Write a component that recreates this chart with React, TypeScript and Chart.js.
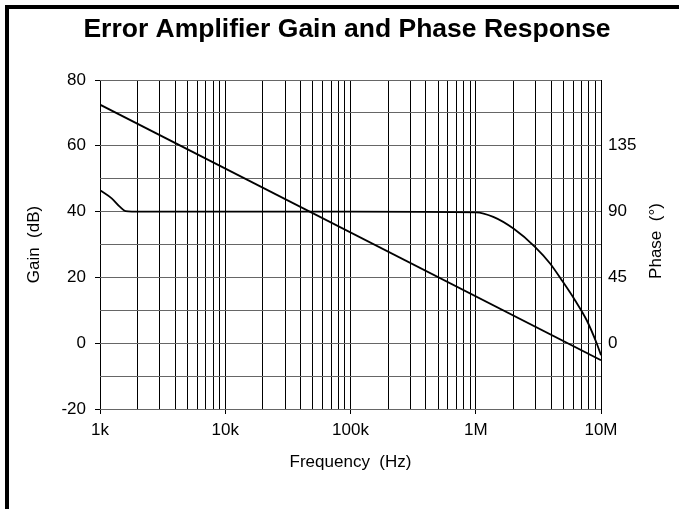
import React, { useEffect, useRef } from "react";
import { Chart, registerables } from "chart.js";

Chart.register(...registerables);

const TITLE = "Error Amplifier Gain and Phase Response";
const X_TITLE = "Frequency  (Hz)";
const Y_LEFT_TITLE = "Gain  (dB)";
const Y_RIGHT_TITLE = "Phase  (°)";

// Gain curve (dB) vs frequency (Hz)
const gainFreq = [1e3, 1e7];
const gainDb = [72.5, -5.2];

// Phase curve (degrees) vs frequency (Hz)
const phaseFreq = [1000, 1240, 1445, 1600, 1800, 1e4, 1e5, 1e6, 1.38e6, 2.0e6, 2.97e6, 3.92e6, 4.86e6, 6.2e6, 7.69e6, 9.25e6, 1e7];
const phaseDeg = [104.6, 99, 93.2, 90.3, 90, 90, 90, 89.5, 86.4, 78.4, 65.9, 54.5, 43.1, 29.4, 15.7, -0.2, -8.2];

// X axis ticks
const decades = [1e3, 1e4, 1e5, 1e6, 1e7];
const decadeLabels = ["1k", "10k", "100k", "1M", "10M"];
const minorMultipliers = [1, 2, 3, 4, 5, 6, 7, 8, 9];

// Left axis (gain)
const gainMin = -20;
const gainMax = 80;
const gainStep = 10;
const gainLabelEvery = 20;

// Right axis (phase)
const phaseMin = -45;
const phaseMax = 180;
const phaseStep = 45;
const phaseLabels = [0, 45, 90, 135];

const FONT = '"Liberation Sans", Arial, Helvetica, sans-serif';

const xTickValues: number[] = [];
decades.forEach((d, i) => {
  if (i < decades.length - 1) {
    minorMultipliers.forEach((m) => xTickValues.push(d * m));
  } else {
    xTickValues.push(d);
  }
});

const decadeIndex = (v: number) =>
  decades.findIndex((d) => Math.abs(v - d) / d < 1e-6);

const textPlugin = {
  id: "customText",
  afterDraw(chart: any) {
    const ctx = chart.ctx as CanvasRenderingContext2D;
    ctx.save();
    ctx.fillStyle = "#000";
    ctx.textAlign = "center";
    ctx.textBaseline = "middle";
    ctx.font = `bold 26.5px ${FONT}`;
    ctx.fillText(TITLE, 347, 30);
    ctx.translate(656, 241);
    ctx.rotate(-Math.PI / 2);
    ctx.font = `17px ${FONT}`;
    ctx.fillText(Y_RIGHT_TITLE, 0, 0);
    ctx.restore();
  },
};

export default function App() {
  const canvasRef = useRef<HTMLCanvasElement | null>(null);

  useEffect(() => {
    if (!canvasRef.current) return;
    Chart.defaults.font.family = FONT;
    const chart = new Chart(canvasRef.current, {
      type: "line",
      data: {
        datasets: [
          {
            label: "Gain",
            data: gainFreq.map((f, i) => ({ x: f, y: gainDb[i] })),
            yAxisID: "y",
            borderColor: "#000",
            borderWidth: 1.8,
            pointRadius: 0,
            tension: 0,
            fill: false,
          },
          {
            label: "Phase",
            data: phaseFreq.map((f, i) => ({ x: f, y: phaseDeg[i] })),
            yAxisID: "y2",
            borderColor: "#000",
            borderWidth: 1.8,
            pointRadius: 0,
            cubicInterpolationMode: "monotone",
            fill: false,
          },
        ],
      },
      options: {
        responsive: false,
        animation: false,
        devicePixelRatio: 1,
        layout: { padding: { top: 80, left: 0, right: 0, bottom: 0 } },
        plugins: {
          legend: { display: false },
          title: { display: false },
          tooltip: { enabled: false },
        },
        scales: {
          x: {
            type: "logarithmic",
            min: 1e3,
            max: 1e7,
            afterBuildTicks: (s: any) => {
              s.ticks = xTickValues.map((v) => ({ value: v }));
            },
            afterFit: (s: any) => {
              s.height = 100;
            },
            border: { display: false },
            grid: {
              color: "#000",
              lineWidth: 1,
              tickLength: 5,
              tickColor: (c: any) =>
                c.tick && decadeIndex(c.tick.value) >= 0 ? "#000" : "rgba(0,0,0,0)",
            },
            ticks: {
              autoSkip: false,
              maxRotation: 0,
              minRotation: 0,
              padding: 6,
              color: "#000",
              font: { size: 17 },
              callback: (v: any) => {
                const i = decadeIndex(Number(v));
                return i >= 0 ? decadeLabels[i] : "";
              },
            },
            title: {
              display: true,
              text: X_TITLE,
              color: "#000",
              font: { size: 17 },
              padding: { top: 0, bottom: 36 },
            },
          },
          y: {
            type: "linear",
            position: "left",
            min: gainMin,
            max: gainMax,
            afterFit: (s: any) => {
              s.width = 100;
            },
            border: { display: false },
            grid: {
              color: "#666",
              lineWidth: 1,
              tickLength: 5,
              tickColor: (c: any) =>
                c.tick && c.tick.value % gainLabelEvery === 0 ? "#000" : "rgba(0,0,0,0)",
            },
            ticks: {
              stepSize: gainStep,
              padding: 9,
              color: "#000",
              font: { size: 17 },
              callback: (v: any) => (Number(v) % gainLabelEvery === 0 ? String(v) : ""),
            },
            title: {
              display: true,
              text: Y_LEFT_TITLE,
              color: "#000",
              font: { size: 17 },
              padding: { top: 24, bottom: 0 },
            },
          },
          y2: {
            type: "linear",
            position: "right",
            min: phaseMin,
            max: phaseMax,
            afterFit: (s: any) => {
              s.width = 78;
            },
            border: { display: false },
            grid: { drawOnChartArea: false, drawTicks: false },
            ticks: {
              stepSize: phaseStep,
              padding: 7,
              color: "#000",
              font: { size: 17 },
              callback: (v: any) => (phaseLabels.includes(Number(v)) ? String(v) : ""),
            },
            title: { display: false },
          },
        },
      },
      plugins: [textPlugin],
    } as any);
    return () => chart.destroy();
  }, []);

  return (
    <div
      style={{
        position: "fixed",
        left: 0,
        top: 0,
        width: 679,
        height: 509,
        overflow: "hidden",
        background: "#fff",
      }}
    >
      <div
        style={{
          position: "absolute",
          left: 5,
          top: 5,
          width: 800,
          height: 700,
          borderLeft: "4px solid #000",
          borderTop: "4px solid #000",
        }}
      />
      <canvas
        ref={canvasRef}
        width={679}
        height={509}
        style={{ position: "absolute", left: 0, top: 0, width: 679, height: 509 }}
      />
    </div>
  );
}
